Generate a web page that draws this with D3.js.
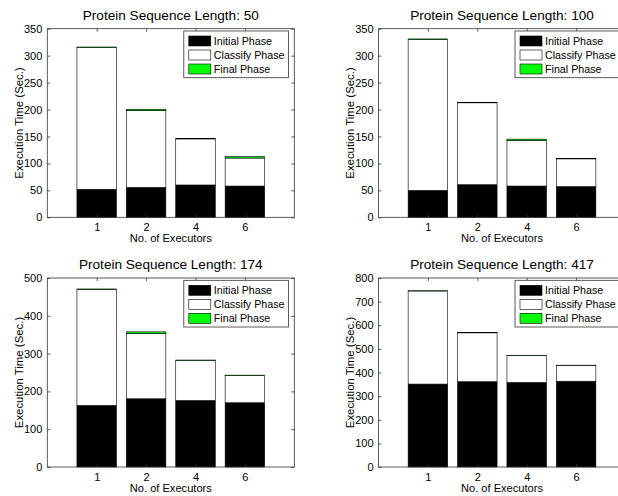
<!DOCTYPE html>
<html>
<head>
<meta charset="utf-8">
<script src="https://cdn.jsdelivr.net/npm/d3@7"></script>
<style>
  html, body { margin: 0; padding: 0; background: #fff; }
  svg { display: block; }
  text { font-family: "Liberation Sans", Arial, Helvetica, sans-serif; fill: #000; }
</style>
</head>
<body>
<svg id="chart" width="618" height="496"></svg>
<script>
// ---- Data ----
const executors = ["1", "2", "4", "6"];
const phases = ["Initial Phase", "Classify Phase", "Final Phase"];
const titles = [
  "Protein Sequence Length: 50",
  "Protein Sequence Length: 100",
  "Protein Sequence Length: 174",
  "Protein Sequence Length: 417"
];
// seconds per phase, per executor count
const initial50  = [52, 55.5, 60, 58];
const classify50 = [263, 142.5, 85.5, 52];
const final50    = [1, 2.5, 1, 2.5];

const initial100  = [50, 60.5, 58, 57];
const classify100 = [280, 152, 84.5, 51.5];
const final100    = [1, 1, 2.5, 1];

const initial174  = [163, 180.5, 176, 170];
const classify174 = [307, 173, 106, 72];
const final174    = [1, 4, 1, 1];

const initial417  = [351, 361, 358, 363];
const classify417 = [394, 207, 114, 67];
const final417    = [1, 1, 1, 1];

const yMax50 = 350, yMax100 = 350, yMax174 = 500, yMax417 = 800;
const yTicks50  = [0, 50, 100, 150, 200, 250, 300, 350];
const yTicks100 = [0, 50, 100, 150, 200, 250, 300, 350];
const yTicks174 = [0, 100, 200, 300, 400, 500];
const yTicks417 = [0, 100, 200, 300, 400, 500, 600, 700, 800];

const phaseColors = ["#000000", "#ffffff", "#00ff00"];

const panelData = [
  { title: titles[0], series: [initial50, classify50, final50], yMax: yMax50, ticks: yTicks50 },
  { title: titles[1], series: [initial100, classify100, final100], yMax: yMax100, ticks: yTicks100 },
  { title: titles[2], series: [initial174, classify174, final174], yMax: yMax174, ticks: yTicks174 },
  { title: titles[3], series: [initial417, classify417, final417], yMax: yMax417, ticks: yTicks417 }
];

// ---- Layout ----
const layout = [
  { left: 47.3, top: 28.7, bottom: 217.3 },
  { left: 378.5, top: 28.7, bottom: 217.3 },
  { left: 47.3, top: 278, bottom: 467 },
  { left: 378.5, top: 278, bottom: 467 }
];
const axW = 247;

const svg = d3.select("#chart");
svg.append("rect").attr("width", 618).attr("height", 496).attr("fill", "#fff");

panelData.forEach((p, pi) => {
  const L = layout[pi];
  const g = svg.append("g").attr("transform", `translate(${L.left},${L.top})`);
  const h = L.bottom - L.top;

  const x = d3.scalePoint().domain(executors).range([0, axW]).padding(1);
  const y = d3.scaleLinear().domain([0, p.yMax]).range([h, 0]);
  const bw = x.step() * 0.8;

  // stack
  const rows = executors.map((e, i) => {
    const o = { ex: e };
    phases.forEach((ph, k) => { o[ph] = p.series[k][i]; });
    return o;
  });
  const stacked = d3.stack().keys(phases)(rows);

  stacked.forEach((layer, k) => {
    g.selectAll(null).data(layer).enter().append("rect")
      .attr("x", d => x(d.data.ex) - bw / 2)
      .attr("y", d => y(d[1]))
      .attr("width", bw)
      .attr("height", d => y(d[0]) - y(d[1]))
      .attr("fill", phaseColors[k])
      .attr("stroke", "#000")
      .attr("stroke-width", 0.6);
  });

  // axes (MATLAB style, ticks inside, box)
  const tl = 3;
  const axColor = "#333";
  const yL = g.append("g").call(d3.axisLeft(y).tickValues(p.ticks).tickSize(-tl).tickPadding(5));
  const yR = g.append("g").attr("transform", `translate(${axW},0)`)
    .call(d3.axisRight(y).tickValues(p.ticks).tickSize(-tl).tickFormat(""));
  const xB = g.append("g").attr("transform", `translate(0,${h})`)
    .call(d3.axisBottom(x).tickSize(-tl).tickPadding(6));
  const xT = g.append("g")
    .call(d3.axisTop(x).tickSize(-tl).tickFormat(""));
  [yL, yR, xB, xT].forEach(a => {
    a.select(".domain").remove();
    a.selectAll(".tick line").attr("stroke", axColor).attr("stroke-width", 0.8);
    a.selectAll("text").attr("font-size", "11px").attr("fill", "#000")
      .style("font-family", '"Liberation Sans", Arial, sans-serif');
  });
  g.append("rect").attr("x", 0).attr("y", 0).attr("width", axW).attr("height", h)
    .attr("fill", "none").attr("stroke", axColor).attr("stroke-width", 0.8);

  // title
  g.append("text").attr("x", axW / 2).attr("y", -9).attr("text-anchor", "middle")
    .attr("font-size", "13.6px").text(p.title);
  // x label
  g.append("text").attr("x", axW / 2).attr("y", h + 24.8).attr("text-anchor", "middle")
    .attr("font-size", "11.1px").text("No. of Executors");
  // y label
  g.append("text").attr("transform", `translate(-24.8,${h / 2}) rotate(-90)`)
    .attr("text-anchor", "middle").attr("font-size", "11.4px").text("Execution Time (Sec.)");

  // legend
  const lg = g.append("g").attr("transform", `translate(136.5,2.3)`);
  lg.append("rect").attr("width", 104.6).attr("height", 46.7)
    .attr("fill", "#fff").attr("stroke", axColor).attr("stroke-width", 0.8);
  phases.forEach((ph, k) => {
    lg.append("rect").attr("x", 5).attr("y", 5 + k * 14).attr("width", 22).attr("height", 10)
      .attr("fill", phaseColors[k]).attr("stroke", "#000").attr("stroke-width", 0.6);
    lg.append("text").attr("x", 30).attr("y", 14 + k * 14).attr("font-size", "10.7px").text(ph);
  });
});
</script>
</body>
</html>
